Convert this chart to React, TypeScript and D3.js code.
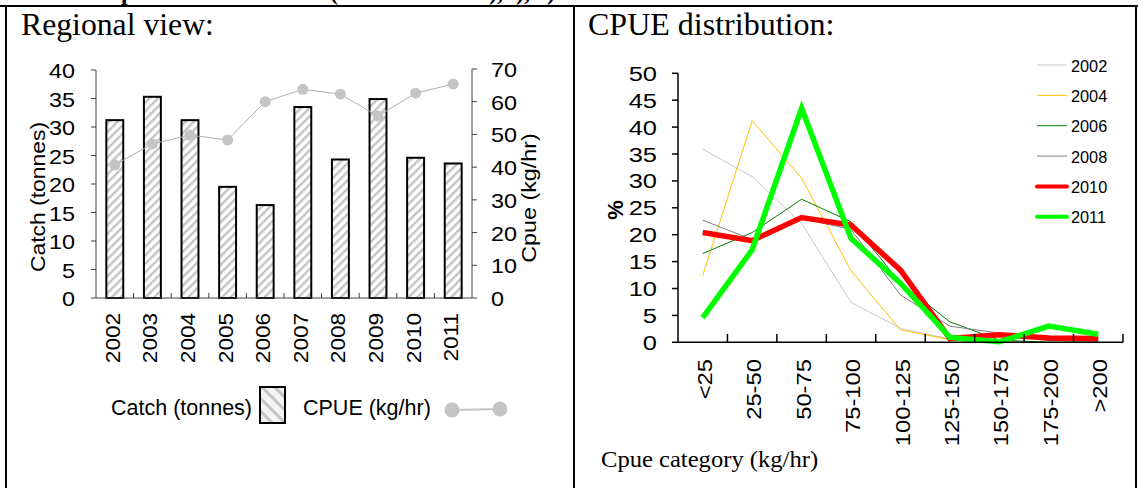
import * as d3 from "d3"

// left panel: catch bars + cpue line
const years = ["2002", "2003", "2004", "2005", "2006", "2007", "2008", "2009", "2010", "2011"]
const catchTonnes = [31.2, 35.3, 31.2, 19.5, 16.3, 33.5, 24.3, 34.9, 24.6, 23.6]
const cpueKgHr = [40.7, 47.1, 49.8, 48.3, 60.0, 63.8, 62.3, 55.6, 62.6, 65.4]
const catchTicks = [0, 5, 10, 15, 20, 25, 30, 35, 40]
const cpueTicks = [0, 10, 20, 30, 40, 50, 60, 70]

// right panel: cpue category distribution (%)
const categories = ["<25", "25-50", "50-75", "75-100", "100-125", "125-150", "150-175", "175-200", ">200"]
const pct2002 = [35.9, 30.8, 22.1, 7.4, 2.6, 0.6, 0.3, 0, 0]
const pct2004 = [12.4, 41.2, 30.5, 13.3, 2.3, 0.5, 0, 0, 0]
const pct2006 = [16.5, 20.4, 26.6, 22.4, 11.0, 3.8, 0.4, 0, 0]
const pct2008 = [22.7, 19.1, 23.0, 21.0, 8.8, 3.0, 1.7, 0.3, 0.2]
const pct2010 = [20.4, 18.9, 23.2, 21.8, 13.4, 0.7, 1.4, 0.8, 0.7]
const pct2011 = [4.6, 17.2, 43.5, 19.3, 11.0, 0.9, 0.1, 3.0, 1.5]
const pctTicks = [0, 5, 10, 15, 20, 25, 30, 35, 40, 45, 50]

const series = [
  { name: "2002", values: pct2002, color: "#c8c8c8", width: 1 },
  { name: "2004", values: pct2004, color: "#ffc000", width: 1 },
  { name: "2006", values: pct2006, color: "#008000", width: 1 },
  { name: "2008", values: pct2008, color: "#808080", width: 1 },
  { name: "2010", values: pct2010, color: "#ff0000", width: 5.5 },
  { name: "2011", values: pct2011, color: "#00ff00", width: 5.5 },
]

const sans = "'Liberation Sans', Arial, sans-serif"
const serif = "'Liberation Serif', 'Times New Roman', serif"

// the pasted excel charts have their text stretched along the reading direction
const Label = (props: {
  x: number
  y: number
  rotate?: number
  sx?: number
  anchor?: string
  size?: number
  weight?: string
  family?: string
  children: any
}) => (
  <text
    transform={`translate(${props.x},${props.y}) rotate(${props.rotate || 0}) scale(${props.sx || 1},1)`}
    textAnchor={props.anchor || "start"}
    fontSize={props.size || 20}
    fontWeight={props.weight}
    fontFamily={props.family || sans}
  >
    {props.children}
  </text>
)

const App = () => {
  // left chart scales
  const xL = d3.scaleBand().domain(years).range([96, 472]).paddingInner(0.55).paddingOuter(0.275)
  const xLb = d3.scaleBand().domain(years).range([96, 472])
  const yCatch = d3.scaleLinear().domain([0, 40]).range([298, 70])
  const yCpue = d3.scaleLinear().domain([0, 70]).range([298, 69])
  const midL = (y: string) => (xLb(y) as number) + xLb.bandwidth() / 2
  const cpueLine = d3
    .line<number>()
    .x((_, i) => midL(years[i]))
    .y((d) => yCpue(d))

  // right chart scales
  const xR = d3.scaleBand().domain(categories).range([678, 1123])
  const yPct = d3.scaleLinear().domain([0, 50]).range([342.3, 73.3])
  const midR = (c: string) => (xR(c) as number) + xR.bandwidth() / 2
  const pctLine = d3
    .line<number>()
    .x((_, i) => midR(categories[i]))
    .y((d) => yPct(d))

  return (
    <svg
      width={1138}
      height={488}
      style={{ position: "absolute", left: 0, top: 0, background: "#fff" }}
    >
      <defs>
        <pattern id="hatch" width={6} height={6} patternUnits="userSpaceOnUse" patternTransform="rotate(45)">
          <rect width={6} height={6} fill="#fff" />
          <rect width={2.4} height={6} fill="#c4c4c4" />
        </pattern>
        <pattern id="hatchLeg" width={9} height={9} patternUnits="userSpaceOnUse" patternTransform="rotate(-45)">
          <rect width={9} height={9} fill="#f4f4f4" />
          <rect width={3} height={9} fill="#c4c4c4" />
        </pattern>
      </defs>

      {/* caption cut off by the crop, only descenders show */}
      <g fontFamily={serif} fontWeight="bold" fontSize={24}>
        <text x={121} y={-0.5}>p</text>
        <text x={330} y={-0.5}>(</text>
        <text x={489} y={-0.5}>),</text>
        <text x={516} y={-0.5}>),</text>
        <text x={547} y={-0.5}>)</text>
      </g>

      {/* table borders */}
      <g stroke="#000" strokeWidth={2}>
        <line x1={0} x2={1138} y1={6} y2={6} />
        <line x1={6} x2={6} y1={6} y2={488} />
        <line x1={574} x2={574} y1={6} y2={488} />
        <line x1={1136} x2={1136} y1={6} y2={488} />
      </g>

      {/* ---------- left panel ---------- */}
      <Label x={21} y={35} size={30.5} sx={1.04} family={serif}>
        Regional view:
      </Label>

      {catchTonnes.map((v, i) => (
        <rect
          key={years[i]}
          x={xL(years[i])}
          y={yCatch(v)}
          width={xL.bandwidth()}
          height={298 - yCatch(v)}
          fill="url(#hatch)"
          stroke="#000"
          strokeWidth={2}
        />
      ))}

      <path d={cpueLine(cpueKgHr) || ""} fill="none" stroke="#b0b0b0" strokeWidth={1} />
      {cpueKgHr.map((v, i) => (
        <circle key={"c" + i} cx={midL(years[i])} cy={yCpue(v)} r={5.5} fill="#c4c4c4" />
      ))}

      {/* left axes */}
      <g stroke="#404040" strokeWidth={1}>
        <line x1={96} x2={96} y1={70} y2={298} />
        <line x1={472} x2={472} y1={69} y2={298} />
        <line x1={96} x2={472} y1={298} y2={298} />
        {catchTicks.map((t) => (
          <line key={"lt" + t} x1={91} x2={96} y1={yCatch(t)} y2={yCatch(t)} />
        ))}
        {cpueTicks.map((t) => (
          <line key={"rt" + t} x1={472} x2={477} y1={yCpue(t)} y2={yCpue(t)} />
        ))}
        {years.slice(1).map((y) => (
          <line key={"bt" + y} x1={xLb(y)} x2={xLb(y)} y1={293} y2={298} />
        ))}
      </g>
      {catchTicks.map((t) => (
        <Label key={"ll" + t} x={75} y={yCatch(t) + 8} anchor="end" sx={1.17}>
          {t}
        </Label>
      ))}
      {cpueTicks.map((t) => (
        <Label key={"rl" + t} x={491} y={yCpue(t) + 8} sx={1.17}>
          {t}
        </Label>
      ))}
      {years.map((y) => (
        <Label key={"xl" + y} x={midL(y) + 5} y={313} rotate={-90} anchor="end" sx={1.1} size={20.5}>
          {y}
        </Label>
      ))}
      <Label x={45} y={197} rotate={-90} anchor="middle" sx={1.09} size={21}>
        Catch (tonnes)
      </Label>
      <Label x={536} y={198} rotate={-90} anchor="middle" sx={1.11} size={21}>
        Cpue (kg/hr)
      </Label>

      {/* left legend */}
      <Label x={111} y={415} size={21.5}>
        Catch (tonnes)
      </Label>
      <rect x={260} y={387} width={25} height={36} fill="url(#hatchLeg)" stroke="#000" strokeWidth={2} />
      <Label x={303} y={415} size={21.5}>
        CPUE (kg/hr)
      </Label>
      <line x1={452} x2={500} y1={410} y2={409} stroke="#c4c4c4" strokeWidth={2} />
      <circle cx={452} cy={410} r={7.5} fill="#c4c4c4" />
      <circle cx={500} cy={409} r={7.5} fill="#c4c4c4" />

      {/* ---------- right panel ---------- */}
      <Label x={588} y={35} size={30.5} sx={1.05} family={serif}>
        CPUE distribution:
      </Label>

      {series.map((s) => (
        <path
          key={s.name}
          d={pctLine(s.values) || ""}
          fill="none"
          stroke={s.color}
          strokeWidth={s.width}
          strokeLinejoin="miter"
        />
      ))}

      <g stroke="#000" strokeWidth={1.5}>
        <line x1={678} x2={678} y1={73.3} y2={343} />
        <line x1={678} x2={1123} y1={342.3} y2={342.3} />
        {pctTicks.map((t) => (
          <line key={"pt" + t} x1={672} x2={678} y1={yPct(t)} y2={yPct(t)} />
        ))}
        {categories.slice(1).map((c) => (
          <line key={"ct" + c} x1={xR(c)} x2={xR(c)} y1={334} y2={342.3} />
        ))}
        <line x1={1123} x2={1123} y1={334} y2={342.3} />
      </g>
      {pctTicks.map((t) => (
        <Label key={"pl" + t} x={657} y={yPct(t) + 7.5} anchor="end" sx={1.3} size={19.6}>
          {t}
        </Label>
      ))}
      {categories.map((c) => (
        <Label key={"cl" + c} x={midR(c) + 9} y={359} rotate={-90} anchor="end" sx={1.19} size={20}>
          {c}
        </Label>
      ))}
      <Label x={623} y={210} rotate={-90} anchor="middle" size={22} weight="bold">
        %
      </Label>
      <Label x={601} y={467} size={23} sx={1.07} family={serif}>
        Cpue category (kg/hr)
      </Label>

      {/* right legend */}
      {series.map((s, i) => (
        <g key={"lg" + s.name}>
          <line
            x1={1037}
            x2={1067}
            y1={65 + i * 30.35}
            y2={65 + i * 30.35}
            stroke={s.color}
            strokeWidth={s.width > 1 ? 4 : 1}
            strokeLinecap={s.width > 1 ? "round" : "butt"}
          />
          <Label x={1071} y={65 + i * 30.35 + 6.5} size={16.3}>
            {s.name}
          </Label>
        </g>
      ))}
    </svg>
  )
}

export default App
